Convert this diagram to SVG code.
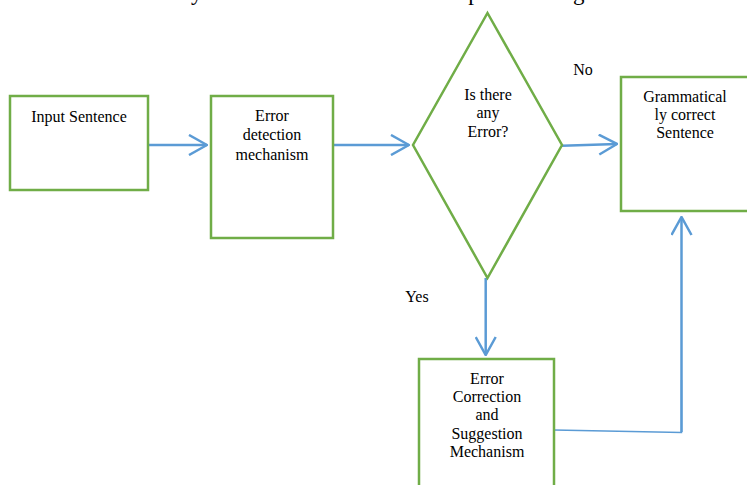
<svg xmlns="http://www.w3.org/2000/svg" width="747" height="485" viewBox="0 0 747 485">
<style>
.box{fill:#fff;stroke:#70AD47;stroke-width:2.5}
.con{fill:none;stroke:#5B9BD5;stroke-width:2.5}
.thin{fill:none;stroke:#5B9BD5;stroke-width:1.5}
.t{font-family:"Liberation Serif","Times New Roman",serif;font-size:16px;fill:#000;text-anchor:middle}
</style>
<defs>
<marker id="arr" viewBox="0 0 20 22" refX="19" refY="11" markerWidth="20" markerHeight="22" markerUnits="userSpaceOnUse" orient="auto">
<path d="M1,1 L19,11 L1,21" fill="none" stroke="#5B9BD5" stroke-width="2.5"/>
</marker>
</defs>
<rect width="747" height="485" fill="#fff"/>
<text x="85" y="0" font-family="Liberation Serif, serif" font-size="23" fill="#000">functionality of a Grammar Checker is depicted in Figure 4.</text>
<g id="connectors">
<line class="con" x1="148" y1="145" x2="207" y2="145" marker-end="url(#arr)"/>
<line class="con" x1="333" y1="145" x2="409" y2="145" marker-end="url(#arr)"/>
<line class="con" x1="562" y1="145.7" x2="617" y2="144" marker-end="url(#arr)"/>
<line class="con" x1="485.7" y1="278" x2="485.7" y2="355" marker-end="url(#arr)"/>
<polyline class="thin" points="554,430 681.5,432.5 681.5,380"/>
<line class="con" x1="681.5" y1="432" x2="681.5" y2="217" marker-end="url(#arr)"/>
</g>
<g id="input-sentence">
<rect class="box" x="10" y="96" width="138" height="94"/>
<text class="t" x="79" y="122">Input Sentence</text>
</g>
<g id="error-detection">
<rect class="box" x="211" y="96" width="122" height="142"/>
<text class="t" x="272" y="121">Error</text>
<text class="t" x="272" y="140">detection</text>
<text class="t" x="272" y="160" font-size="17">mechanism</text>
</g>
<g id="decision">
<polygon class="box" points="487.5,13 562,145 487.5,278 413,145"/>
<text class="t" x="488" y="100">Is there</text>
<text class="t" x="488" y="118">any</text>
<text class="t" x="488" y="137">Error?</text>
</g>
<g id="grammatical">
<rect class="box" x="621" y="77" width="140" height="134"/>
<text class="t" x="685" y="102">Grammatical</text>
<text class="t" x="685" y="120">ly correct</text>
<text class="t" x="685" y="138">Sentence</text>
</g>
<g id="error-correction">
<rect class="box" x="419" y="359" width="135" height="140"/>
<text class="t" x="487" y="384">Error</text>
<text class="t" x="487" y="402">Correction</text>
<text class="t" x="487" y="420">and</text>
<text class="t" x="487" y="439">Suggestion</text>
<text class="t" x="487" y="457">Mechanism</text>
</g>
<g id="labels">
<text class="t" x="583" y="75">No</text>
<text class="t" x="417" y="302">Yes</text>
</g>
</svg>
